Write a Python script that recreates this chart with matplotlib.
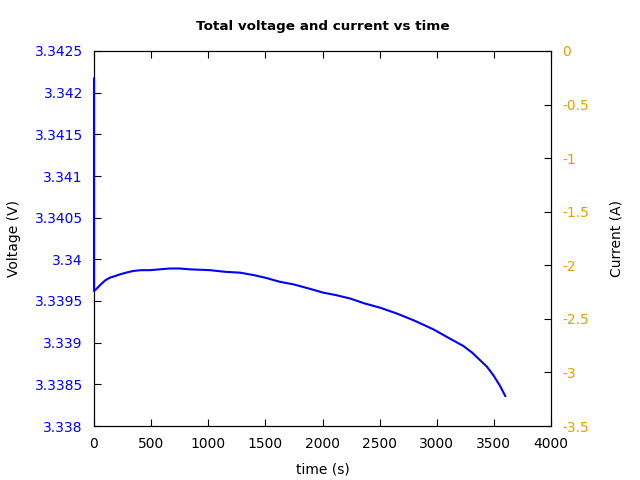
import matplotlib
matplotlib.use('Agg')
import matplotlib.pyplot as plt
import numpy as np

time_s = [0, 0, 25, 60, 100, 140, 185, 228, 280, 341, 410, 490, 575, 665, 750,
          840, 1015, 1150, 1278, 1400, 1497, 1628, 1745, 1880, 2007, 2120, 2241,
          2370, 2503, 2650, 2795, 2970, 3100, 3233, 3310, 3379, 3440, 3495, 3550,
          3600]
voltage_v = [3.34217, 3.33962, 3.33965, 3.33970, 3.33975, 3.33978, 3.33980,
             3.33982, 3.33984, 3.33986, 3.33987, 3.33987, 3.33988, 3.33989,
             3.33989, 3.33988, 3.33987, 3.33985, 3.33984, 3.33981, 3.33978,
             3.33973, 3.33970, 3.33965, 3.33960, 3.33957, 3.33953, 3.33947,
             3.33942, 3.33935, 3.33927, 3.33916, 3.33906, 3.33896, 3.33888,
             3.33879, 3.33871, 3.33861, 3.33849, 3.33836]

volt_ticks = [3.338, 3.3385, 3.339, 3.3395, 3.34, 3.3405, 3.341, 3.3415, 3.342, 3.3425]
volt_labels = ['3.338', '3.3385', '3.339', '3.3395', '3.34', '3.3405', '3.341',
               '3.3415', '3.342', '3.3425']
curr_ticks = [-3.5, -3, -2.5, -2, -1.5, -1, -0.5, 0]
curr_labels = ['-3.5', '-3', '-2.5', '-2', '-1.5', '-1', '-0.5', '0']
time_ticks = [0, 500, 1000, 1500, 2000, 2500, 3000, 3500, 4000]

orange = '#e69f00'

fig = plt.figure(figsize=(6.4, 4.8), dpi=100)
ax = fig.add_axes([94 / 640, 54 / 480, 457 / 640, 375 / 480])
ax.set_xlim(0, 4000)
ax.set_ylim(3.338, 3.3425)
ax.set_xticks(time_ticks)
ax.set_yticks(volt_ticks)
ax.set_yticklabels(volt_labels)
ax.tick_params(axis='x', direction='in', top=True, length=5, labelsize=10, pad=8)
ax.tick_params(axis='y', direction='in', length=5, labelsize=10, labelcolor='#0000ff', pad=8)
ax.set_xlabel('time (s)', fontsize=10, labelpad=8)
ax.set_ylabel('Voltage (V)', fontsize=10, labelpad=9.5)
ax.set_title('Total voltage and current vs time', fontsize=9.7, fontweight='bold', pad=15)

ax2 = ax.twinx()
ax2.set_ylim(-3.5, 0)
ax2.set_yticks(curr_ticks)
ax2.set_yticklabels(curr_labels)
ax2.tick_params(axis='y', direction='in', length=5, labelsize=10, labelcolor=orange, pad=8)
ax2.set_ylabel('Current (A)', fontsize=10, labelpad=15)

# Spannungskurve über den Achsenrahmen legen
ax2.plot(time_s, voltage_v, color='#0000ff', lw=1.5, clip_on=False, zorder=5,
         transform=ax.transData)

fig.savefig('out.png', dpi=100)
